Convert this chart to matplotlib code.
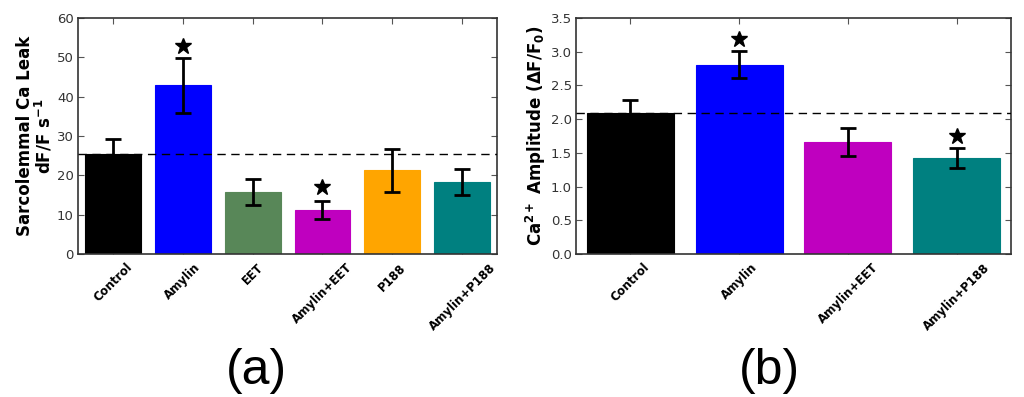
import matplotlib
matplotlib.use("Agg")
import matplotlib.pyplot as plt
import numpy as np

# Panel (a) data
cats_a = ["Control", "Amylin", "EET", "Amylin+EET", "P188", "Amylin+P188"]
leak = [25.4, 42.9, 15.7, 11.2, 21.3, 18.3]
leak_err = [3.8, 7.0, 3.3, 2.4, 5.5, 3.3]
colors_a = ["#000000", "#0000ff", "#588758", "#bf00bf", "#ffa500", "#008080"]
stars_a = {1: 53.0, 3: 17.0}

# Panel (b) data
cats_b = ["Control", "Amylin", "Amylin+EET", "Amylin+P188"]
amp = [2.09, 2.81, 1.66, 1.42]
amp_err = [0.19, 0.20, 0.205, 0.15]
colors_b = ["#000000", "#0000ff", "#bf00bf", "#008080"]
stars_b = {1: 3.19, 3: 1.75}

plt.rcParams['font.family'] = ['DejaVu Sans']

fig = plt.figure(figsize=(10.24, 3.97), dpi=100)
ax1 = fig.add_axes([0.0762, 0.3602, 0.4092, 0.5945])
ax2 = fig.add_axes([0.5625, 0.3602, 0.4248, 0.5945])


def draw(ax, cats, vals, errs, colors, stars, ylim, yticks, fmt):
    x = np.arange(len(cats))
    ax.bar(x, vals, width=0.8, color=colors, edgecolor=colors, linewidth=0.8,
           zorder=2)
    ax.errorbar(x, vals, yerr=errs, fmt='none', ecolor='black', elinewidth=2,
                capsize=5.5, capthick=2, zorder=3)
    ax.axhline(vals[0], color='black', linestyle='--', linewidth=1, zorder=4,
               dashes=(6, 4))
    for i, y in stars.items():
        ax.plot(x[i], y, marker='*', color='black', markersize=12,
                linestyle='none', zorder=5)
    ax.set_xlim(-0.5, len(cats) - 0.5)
    ax.set_ylim(*ylim)
    ax.set_yticks(yticks)
    ax.set_yticklabels([fmt.format(t) for t in yticks], fontsize=9.5,
                       color='#333333')
    ax.set_xticks(x)
    ax.set_xticklabels(cats, rotation=45, ha='center',
                       fontsize=8.5, fontweight='bold')
    ax.tick_params(direction='in', top=True, right=True, length=4,
                   width=0.8, color='#555555')
    ax.tick_params(axis='y', pad=3)
    ax.tick_params(axis='x', pad=5)
    for s in ax.spines.values():
        s.set_linewidth(1.2)
        s.set_color('#333333')


draw(ax1, cats_a, leak, leak_err, colors_a, stars_a, (0, 60),
     [0, 10, 20, 30, 40, 50, 60], "{:d}")
draw(ax2, cats_b, amp, amp_err, colors_b, stars_b, (0, 3.5),
     [0, 0.5, 1.0, 1.5, 2.0, 2.5, 3.0, 3.5], "{:.1f}")

ax1.set_ylabel("Sarcolemmal Ca Leak\ndF/F s$^{\\mathbf{-1}}$", fontsize=12,
               fontweight='bold', linespacing=1.0, labelpad=1.5)
ax2.set_ylabel(r"Ca$^{\mathbf{2+}}$ Amplitude ($\mathbf{\Delta F/F_0}$)",
               fontsize=12, fontweight='bold', labelpad=2)

fig.text(0.25, 0.065, "(a)", fontsize=36, ha='center', va='center',
         family='Liberation Sans')
fig.text(0.751, 0.065, "(b)", fontsize=36, ha='center', va='center',
         family='Liberation Sans')

fig.savefig("out.png", dpi=100)
